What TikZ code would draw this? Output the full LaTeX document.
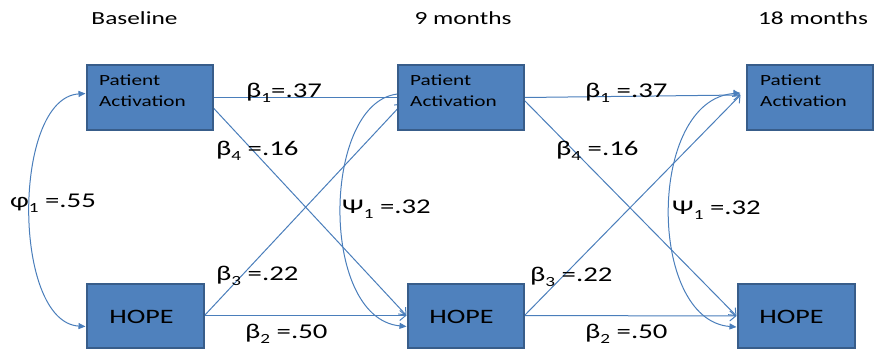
\documentclass[tikz,border=0pt]{standalone}
\usepackage{fontspec}
\setmainfont{Carlito}[FakeStretch=1.37]
\usetikzlibrary{arrows.meta,backgrounds,calc}
\definecolor{boxfill}{HTML}{4F81BD}
\definecolor{boxline}{HTML}{385D8A}
\definecolor{arr}{HTML}{4A7EBB}
\newcommand\sbs[1]{\raisebox{-5pt}{\fontsize{14}{14}\selectfont #1}}
\begin{document}
\begin{tikzpicture}[x=1pt,y=-1pt,
  box/.style={draw=boxline, fill=boxfill, line width=2pt, inner sep=0pt},
  hdr/.style={font=\fontsize{18.5}{20}\selectfont, anchor=base, inner sep=0pt},
  patxt/.style={font=\fontsize{15.5}{21}\selectfont, align=left, anchor=west, inner sep=0pt},
  hopetxt/.style={font=\fontsize{20.5}{22}\selectfont, inner sep=0pt},
  lbl/.style={font=\fontsize{21}{22}\selectfont, anchor=base west, inner sep=0pt},
  link/.style={draw=arr, line width=1pt, -{Straight Barb[length=6pt,width=10pt]}},
  cov/.style={draw=arr, line width=1pt, {Triangle[length=7pt,width=6pt]}-{Triangle[length=7pt,width=6pt]}}
]
\useasboundingbox (0,0) rectangle (875,351);

% headers
\node[hdr] (h1) at (134.5,24) {Baseline};
\node[hdr] (h2) at (463,24) {9 months};
\node[hdr] (h3) at (813,24) {18 months};

% boxes
\node[box, minimum width=126pt, minimum height=65pt] (pa1) at (149.5,97.5) {};
\node[box, minimum width=126pt, minimum height=65pt] (pa2) at (460.5,97.5) {};
\node[box, minimum width=126pt, minimum height=65pt] (pa3) at (809.5,97.5) {};
\node[box, minimum width=117pt, minimum height=64pt] (hope1) at (145,315.5) {};
\node[box, minimum width=116pt, minimum height=64pt] (hope2) at (465.5,315.5) {};
\node[box, minimum width=117pt, minimum height=64pt] (hope3) at (796,316) {};

% box texts
\node[patxt] (pa1t) at (99,90.5) {Patient\\Activation};
\node[patxt] (pa2t) at (410,90.5) {Patient\\Activation};
\node[patxt] (pa3t) at (760,90.5) {Patient\\Activation};
\node[hopetxt] (hope1t) at (141.5,317) {HOPE};
\node[hopetxt] (hope2t) at (461.5,317) {HOPE};
\node[hopetxt] (hope3t) at (791.5,317) {HOPE};

% connectors (under the boxes)
\begin{scope}[on background layer]
\draw[link] ($(pa1.east)+(-10,0)$) -- ($(pa2.west)+(8,0)$);
\draw[link] ($(pa1.east)+(-8,2)$) -- (hope2.west);
\draw[link] (hope1.east) -- ($(pa2.west)+(6,6)$);
\draw[link] (hope1.east) -- (hope2.west);
\draw[cov] ($(pa2.west)+(10,-4)$) .. controls (322,98) and (318,318) .. ($(hope2.west)+(0,11)$);

\coordinate (t3) at ($(pa3.west)+(-5,-2.5)$);
\draw[link] (pa2.east) -- (t3);
\draw[link] (hope2.east) -- (t3);
\draw[link] ($(pa2.east)+(0,3)$) -- (hope3.west);
\draw[link] (hope2.east) -- (hope3.west);
\draw[cov] ($(pa3.west)+(-5,-4.5)$) .. controls (647,100) and (647,320) .. ($(hope3.west)+(0,11)$);

\draw[cov] ($(pa1.west)+(0,-4)$) .. controls (12,98) and (12,322) .. ($(hope1.west)+(0,11)$);
\end{scope}

% labels
\node[lbl] (l1a) at (246,97) {β\sbs{1}=.37};
\node[lbl] (l4a) at (216,155) {β\sbs{4} =.16};
\node[lbl] (l3a) at (216,280) {β\sbs{3} =.22};
\node[lbl] (l2a) at (245,338) {β\sbs{2} =.50};
\node[lbl] (psa) at (342,213) {Ψ\sbs{1} =.32};
\node[lbl] (l1b) at (585,97) {β\sbs{1} =.37};
\node[lbl] (l4b) at (556,155) {β\sbs{4} =.16};
\node[lbl] (l3b) at (530,281) {β\sbs{3} =.22};
\node[lbl] (l2b) at (585,338) {β\sbs{2} =.50};
\node[lbl] (psb) at (672,214) {Ψ\sbs{1} =.32};
\node[lbl] (phi) at (10,207) {φ\sbs{1} =.55};
\end{tikzpicture}
\end{document}
